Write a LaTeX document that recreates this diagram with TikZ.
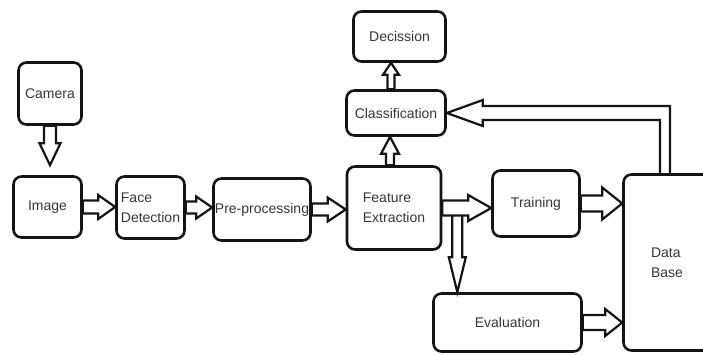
\documentclass[tikz,border=0pt]{standalone}
\usepackage{fontspec}
\setmainfont{Liberation Sans}
\usetikzlibrary{calc}
\definecolor{figline}{RGB}{20,20,20}
\definecolor{figtext}{RGB}{55,55,55}
\tikzset{
  box/.style ={draw=figline, line width=2.6pt, rounded corners=8pt, fill=white,
               text=figtext, font=\fontsize{14}{20}\selectfont, inner sep=1pt, align=left},
  blk/.style n args={3}{draw=figline, line width=2.2pt, fill=white, line join=miter,
    to path={let \p1=(\tikztostart), \p2=(\tikztotarget),
                 \n1={atan2(\y2-\y1,\x2-\x1)}, \n2={veclen(\x2-\x1,\y2-\y1)} in
      [shift={(\p1)}, rotate=\n1]
      (0,#1) -- (\n2-#3,#1) -- (\n2-#3,#2) -- (\n2,0) -- (\n2-#3,-#2) -- (\n2-#3,-#1) -- (0,-#1) -- cycle}},
  elb/.style ={draw=figline, line width=2.2pt, line join=miter},
}
\begin{document}
\begin{tikzpicture}[x=1pt,y=-1pt]
  \useasboundingbox[fill=white] (0,0) rectangle (703,354);
  % boxes
  \node[box, minimum width=63pt, minimum height=62pt] (cam) at (50,93.5) {Camera};
  \node[box, minimum width=68pt, minimum height=61pt] (img) at (47.5,207) {Image};
  \node[box, minimum width=68pt, minimum height=62pt] (fd) at (150.5,207.5) {Face\\Detection};
  \node[box, minimum width=97pt, minimum height=62pt] (pre) at (262,209.5) {Pre-processing};
  \node[box, minimum width=94pt, minimum height=83pt] (feat) at (394,208) {Feature\\Extraction};
  \node[box, minimum width=87pt, minimum height=66pt] (trn) at (536,203.5) {Training};
  \node[box, minimum width=87pt, minimum height=176pt] (db) at (667,262.5) {Data\\Base};
  \node[box, minimum width=148pt, minimum height=58pt] (evl) at (507.5,322.5) {Evaluation};
  \node[box, minimum width=92pt, minimum height=50pt] (dec) at (399.5,36.5) {Decission};
  \node[box, minimum width=99pt, minimum height=45pt] (cls) at (396,113) {Classification};
  \coordinate (fb) at ($(feat.east)+(15,0)$);
  % block arrows
  \draw[blk={6}{10.5}{22}] (cam.south) to ($(cam.south |- img.north)+(0,-10)$);
  \draw[blk={6.5}{12}{17}] (img.east) to (img.east -| fd.west);
  \draw[blk={6}{11}{16}] (fd.east) to (fd.east -| pre.west);
  \draw[blk={6}{12}{18}] (pre.east) to (pre.east -| feat.west);
  \draw[blk={5}{8.5}{35}] (fb) to (fb |- evl.north);
  \draw[blk={7.5}{13}{23}] (feat.east) to (feat.east -| trn.west);
  \draw[blk={8}{16}{20}] (trn.east) to (trn.east -| db.west);
  \draw[blk={7.5}{13.5}{17}] (evl.east) to (evl.east -| db.west);
  \draw[blk={3.5}{8}{12}] ($(cls.north)+(-5,0)$) to ($(cls.north |- dec.south)+(-5,0)$);
  \draw[blk={4}{9}{17}] ($(feat.north)+(-4,0)$) to ($(feat.north |- cls.south)+(-4,0)$);
  \draw[elb] let \p1=(db.north), \p2=(cls.east) in
    (\x1-7pt,\y1) -- (\x1-7pt,\y2-7pt) -- (\x2+36pt,\y2-7pt) -- (\x2+36pt,\y2-13pt)
    -- (\p2) -- (\x2+36pt,\y2+13pt) -- (\x2+36pt,\y2+7pt) -- (\x1+3pt,\y2+7pt) -- (\x1+3pt,\y1);
\end{tikzpicture}
\end{document}
